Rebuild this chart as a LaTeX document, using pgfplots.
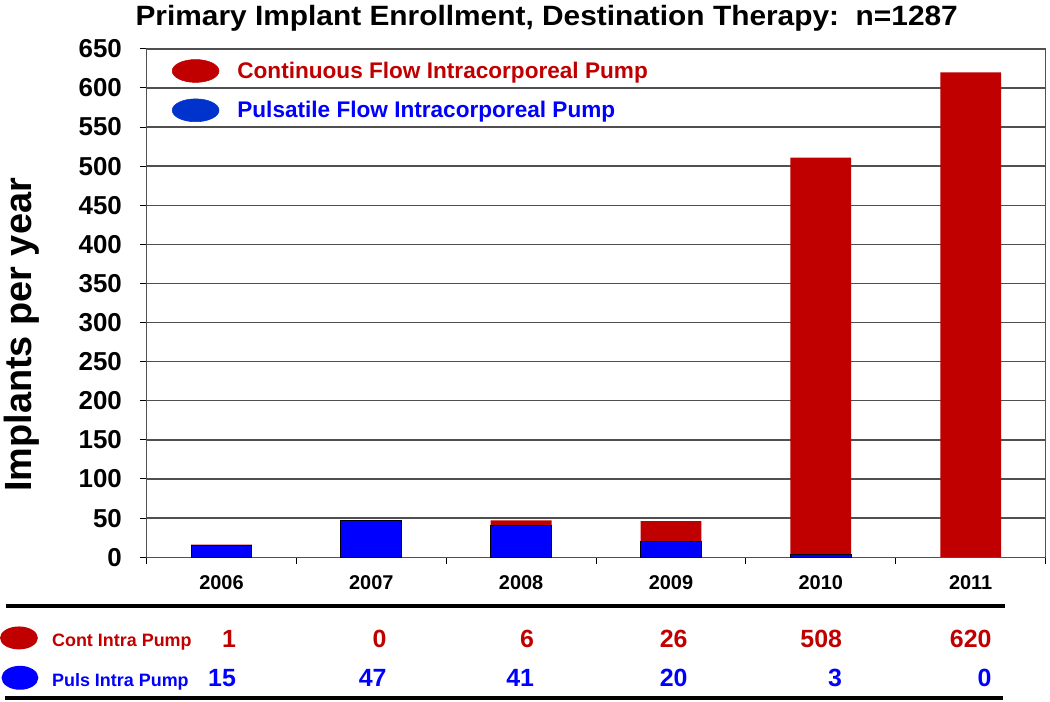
\documentclass[border=0pt]{standalone}
\usepackage{pgfplots}
\pgfplotsset{compat=1.18}
\usepackage{fontspec}
\setmainfont{Liberation Sans}
\newfontfamily\titlefont[FakeStretch=1.07]{Liberation Sans}
\definecolor{cred}{HTML}{C00000}
\definecolor{cblue}{HTML}{0000FF}
\definecolor{lblue}{HTML}{0033CC}
\definecolor{gridc}{HTML}{505050}
\begin{document}
\begin{tikzpicture}
\begin{axis}[
  at={(0pt,0pt)}, anchor=south west,
  scale only axis, width=676.5pt, height=382.5pt,
  xmin=-0.5, xmax=5.5, ymin=0, ymax=650,
  ybar stacked, bar width=45.75pt,
  ytick={0,50,...,650},
  xtick={-0.5,0.5,...,5.5}, xticklabels={},
  extra x ticks={0,1,2,3,4,5},
  extra x tick labels={2006,2007,2008,2009,2010,2011},
  extra x tick style={major tick length=0pt},
  tick align=outside, tick pos=left,
  major tick length=5.25pt,
  tick style={black, line width=0.75pt},
  ymajorgrids, grid style={gridc, line width=1pt},
  axis line style={gridc, line width=1pt},
  /pgf/number format/assume math mode=true,
  yticklabel style={font=\fontsize{19.5}{21}\selectfont\bfseries, xshift=-9.75pt},
  xticklabel style={font=\fontsize{15}{17}\selectfont\bfseries, yshift=-10.5pt},
  legend style={at={(rel axis cs:0.028,0.98)}, anchor=north west, draw=none, fill=none, inner sep=0pt, row sep=12pt,
    nodes={inner sep=0pt}, font=\fontsize{17}{19}\selectfont\bfseries},
  legend cell align=left,
]
\addlegendimage{legend image code/.code={\fill[cred] (17.6pt,0pt) ellipse [x radius=17.6pt, y radius=8.6pt]; \path[draw=none, fill=none] (0pt,0pt) -- (42pt,0pt);}}
\addlegendentry{\textcolor{cred}{Continuous Flow Intracorporeal Pump}}
\addlegendimage{legend image code/.code={\fill[lblue] (17.6pt,0pt) ellipse [x radius=17.6pt, y radius=8.6pt]; \path[draw=none, fill=none] (0pt,0pt) -- (49pt,0pt);}}
\addlegendentry{\textcolor{cblue}{Pulsatile Flow Intracorporeal Pump}}
\addplot[fill=cblue, draw=black, line width=0.75pt, forget plot] coordinates {(0,15) (1,47) (2,41) (3,20) (4,3) (5,0)};
\addplot[fill=cred, draw=none, forget plot] coordinates {(0,1) (1,0) (2,6) (3,26) (4,508) (5,620)};
\end{axis}
\begin{scope}[x=0.75pt, y=-0.75pt, shift={(-110.25pt,419.25pt)}]
\path[use as bounding box] (0,0) rectangle (1050,704);
\node[inner sep=0pt, anchor=base, font=\titlefont\fontsize{21}{23}\selectfont\bfseries] at (548.5,26) {Primary Implant Enrollment, Destination Therapy:\ \ n=1287};
\node[inner sep=0pt, rotate=90, anchor=base, font=\fontsize{28.5}{31}\selectfont\bfseries] at (32,336) {Implants per year};
\draw[black, line width=3pt] (6,608) -- (1008,608);
\draw[black, line width=3pt] (5,700) -- (1006,700);
\fill[cred] (19,640) ellipse [x radius=19, y radius=11.5];
\fill[cblue] (20,680) ellipse [x radius=18.5, y radius=12];
\node[inner sep=0pt, anchor=base west, text=cred, font=\fontsize{13.5}{15}\selectfont\bfseries] at (52,649) {Cont Intra Pump};
\node[inner sep=0pt, anchor=base west, text=cblue, font=\fontsize{13.5}{15}\selectfont\bfseries] at (52,689) {Puls Intra Pump};
\foreach \x/\v in {237/1, 388/0, 536/6, 690/26, 845/508, 995/620}
  \node[inner sep=0pt, anchor=base east, text=cred, font=\fontsize{18.75}{20}\selectfont\bfseries] at (\x,650) {\v};
\foreach \x/\v in {237/15, 388/47, 536/41, 690/20, 845/3, 995/0}
  \node[inner sep=0pt, anchor=base east, text=cblue, font=\fontsize{18.75}{20}\selectfont\bfseries] at (\x,689) {\v};
\end{scope}
\end{tikzpicture}
\end{document}
